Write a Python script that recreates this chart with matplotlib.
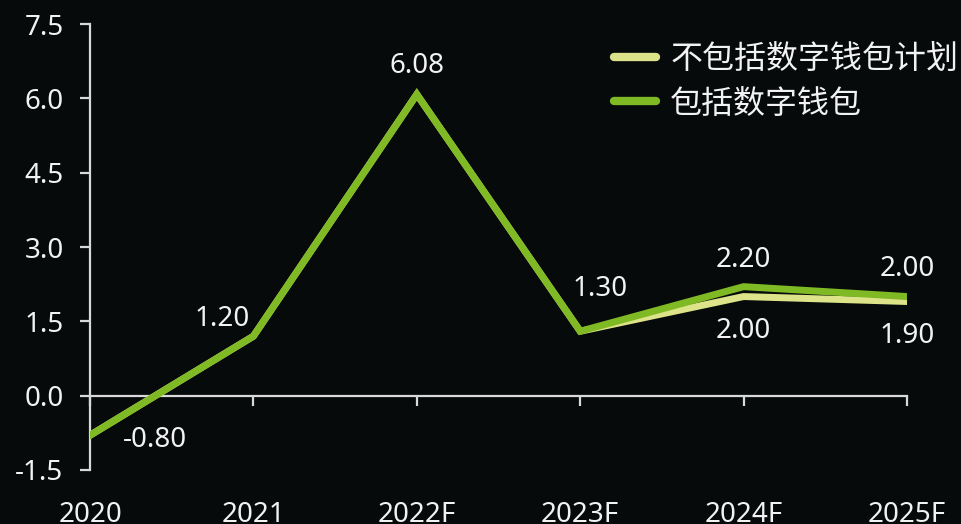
import matplotlib
matplotlib.use("Agg")
import matplotlib.pyplot as plt

plt.rcParams['font.family'] = ['Noto Sans', 'Noto Sans CJK SC', 'DejaVu Sans']

# data
years = ['2020', '2021', '2022F', '2023F', '2024F', '2025F']
no_wallet = [-0.80, 1.20, 6.08, 1.30, 2.00, 1.90]
with_wallet = [-0.80, 1.20, 6.08, 1.30, 2.20, 2.00]
y_ticks = [-1.5, 0.0, 1.5, 3.0, 4.5, 6.0, 7.5]

bg = '#060a0a'
fg = '#f2f2f2'
axis_col = '#d9d9d9'

fig = plt.figure(figsize=(9.62, 5.24), dpi=100, facecolor=bg)
ax = fig.add_axes([90 / 962, 54 / 524, 817 / 962, 446 / 524])
ax.set_facecolor(bg)

x = range(len(years))
ax.plot(x, no_wallet, color='#dde388', lw=5, solid_joinstyle='miter',
        label='不包括数字钱包计划', zorder=3)
ax.plot(x, with_wallet, color='#7fba24', lw=5, solid_joinstyle='miter',
        label='包括数字钱包', zorder=4)

ax.set_xlim(0, 5)
ax.set_ylim(-1.5, 7.5)
ax.set_yticks(y_ticks)
ax.set_yticklabels([f'{v:.1f}' for v in y_ticks])
ax.set_xticks(list(x))
ax.set_xticklabels(years)

for s in ['top', 'right']:
    ax.spines[s].set_visible(False)
ax.spines['bottom'].set_position(('data', 0))
for s in ['left', 'bottom']:
    ax.spines[s].set_color(axis_col)
    ax.spines[s].set_linewidth(1.6)

ax.tick_params(axis='y', direction='out', length=7, width=1.6, color=axis_col,
               labelcolor=fg, labelsize=20, pad=12)
ax.tick_params(axis='x', direction='out', length=7, width=1.6, color=axis_col,
               labelcolor=fg, labelsize=20, pad=69)

# data labels (x, y, text, dx, dy)
labels = [
    (0, -0.80, '-0.80', 0.4, -0.1),
    (1, 1.20, '1.20', -0.19, 0.34),
    (2, 6.08, '6.08', 0.0, 0.57),
    (3, 1.30, '1.30', 0.12, 0.85),
    (4, 2.20, '2.20', 0.0, 0.53),
    (5, 2.00, '2.00', 0.0, 0.55),
    (4, 2.00, '2.00', 0.0, -0.7),
    (5, 1.90, '1.90', 0.0, -0.7),
]
for xi, yi, txt, dx, dy in labels:
    ax.text(xi + dx, yi + dy, txt, color=fg, fontsize=20,
            ha='center', va='center', zorder=5)

leg = ax.legend(loc='upper right', bbox_to_anchor=(1.0 + 25 / 962, 1.0 - 14 / 524),
                bbox_transform=fig.transFigure, frameon=False,
                fontsize=23, handlelength=1.3, handletextpad=0.45,
                labelspacing=0.37, borderaxespad=0.5)
for t in leg.get_texts():
    t.set_color(fg)
for h in leg.get_lines():
    h.set_linewidth(6)
    h.set_solid_capstyle('round')

fig.savefig('out.png', dpi=100, facecolor=bg)
